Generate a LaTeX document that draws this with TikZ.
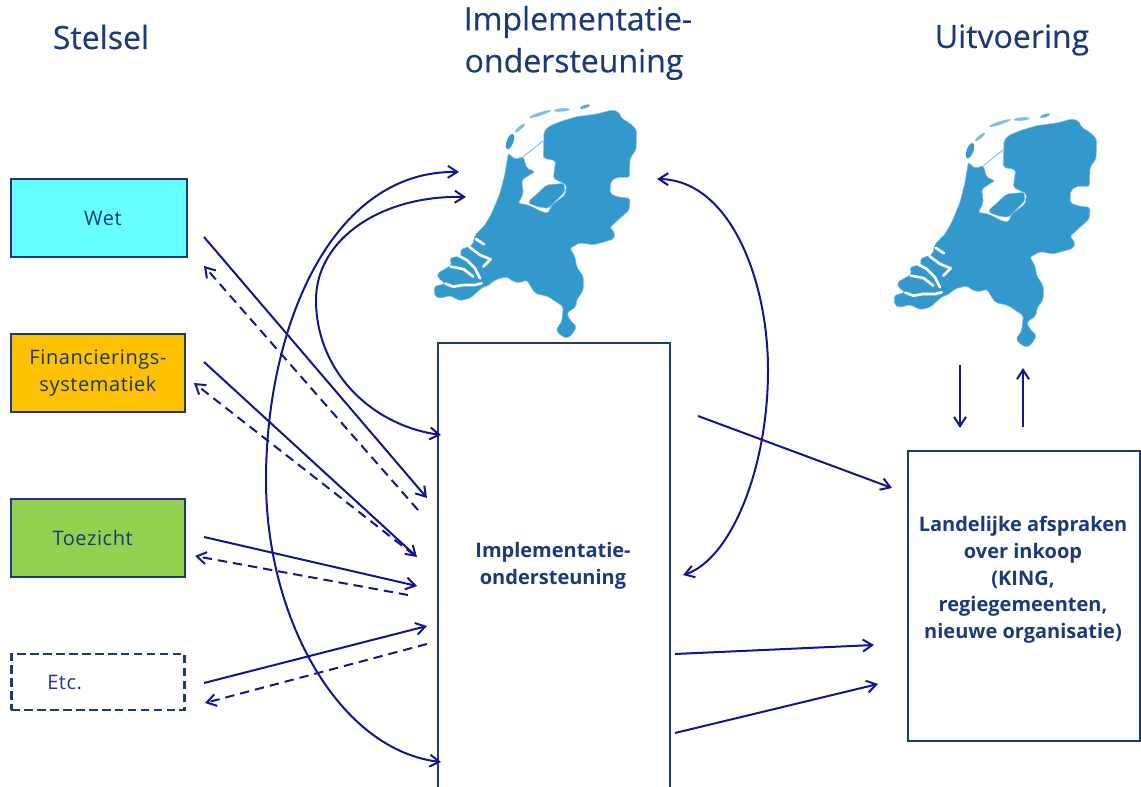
\documentclass[tikz,border=0pt]{standalone}
\usepackage{fontspec}
\setmainfont{Open Sans}
\newfontfamily\titlef[FakeBold=0.35]{Open Sans}
\newfontfamily\labelf[LetterSpace=3]{Open Sans}
\usetikzlibrary{arrows.meta}
\definecolor{navyt}{HTML}{1A3A78}
\definecolor{arrowc}{HTML}{14148C}
\definecolor{mapc}{HTML}{3399CC}
\definecolor{mapl}{HTML}{7FC0E0}
\tikzset{
  x=0.75pt,y=-0.75pt,
  px/.style={inner sep=0pt,outer sep=0pt},
  title/.style={px,text=navyt,font=\titlef\fontsize{24}{31.5}\selectfont,align=center},
  box/.style={draw=navyt,line width=1.6pt,minimum width=#1,px,text=navyt,align=center},
  boxlabel/.style={font=\labelf\fontsize{15}{20.5}\selectfont},
  boldlabel/.style={px,text=navyt,align=center,font=\fontsize{15}{20}\selectfont\bfseries},
  barb/.tip={Straight Barb[length=7pt,width=9pt,line width=1.5pt]},
  link/.style={draw=arrowc,line width=1.5pt,-barb},
  both/.style={draw=arrowc,line width=1.5pt,barb-barb},
  back/.style={link,dash pattern=on 7pt off 4.5pt},
  strip/.style={draw=white,line width=2pt,line cap=round,line join=round},
  nlmap/.pic={
    \begin{scope}[x=0.25pt,y=-0.25pt]
      \fill[mapc,draw=mapl,line width=0.4pt,rounded corners=1.5pt]
        (265,190)--(285,208)--(310,200)--(320,235)--(345,245)--(305,270)--(310,310)--(295,340)--(325,345)--(365,365)--(385,370)--(395,345)--(435,315)--(440,285)--(400,265)--(407,212)--(370,205)--(372,125)--(385,110)--(420,95)--(470,80)--(530,72)--(575,60)--(595,65)--(605,85)--(630,100)--(650,120)--(648,180)--(630,205)--(628,262)--(590,262)--(572,275)--(570,310)--(590,320)--(630,325)--(628,360)--(600,385)--(570,412)--(585,430)--(580,448)--(520,465)--(480,458)--(450,475)--(465,500)--(470,530)--(490,560)--(490,600)--(470,630)--(468,650)--(440,670)--(450,690)--(470,710)--(455,735)--(440,745)--(420,735)--(408,720)--(425,695)--(430,650)--(400,630)--(385,620)--(345,610)--(320,570)--(300,578)--(280,575)--(260,560)--(225,570)--(200,590)--(190,590)--(150,625)--(120,632)--(90,617)--(60,625)--(45,620)--(42,590)--(75,580)--(55,565)--(52,550)--(95,525)--(90,505)--(125,495)--(120,480)--(158,465)--(165,435)--(195,405)--(215,370)--(240,310)--(255,250)--cycle;
      \fill[mapc,draw=mapl,line width=0.3pt,rounded corners=1.5pt]
        (325,335)--(380,285)--(432,280)--(435,305)--(385,355)--(360,352)--(330,342)--cycle;
      \draw[mapl,line width=0.7pt] (310,200)--(370,152);
      \draw[strip] (168,447)--(192,463);
      \draw[strip] (148,471)--(180,495)--(212,508)--(190,530);
      \draw[strip] (112,495)--(140,510)--(165,535)--(180,565);
      \draw[strip] (76,581)--(100,590)--(130,585)--(165,585)--(185,580);
      \draw[strip] (92,530)--(130,537)--(160,560);
      \fill[mapc] (270,155) ellipse [x radius=10,y radius=24,rotate=-20];
      \fill[mapl] (300,114) ellipse [x radius=20,y radius=5,rotate=40];
      \fill[mapl] (360,72) ellipse [x radius=34,y radius=5,rotate=18];
      \fill[mapl] (425,60) ellipse [x radius=24,y radius=5,rotate=5];
      \fill[mapc!80!white] (495,50) ellipse [x radius=16,y radius=5,rotate=18];
    \end{scope}
  }
}
\begin{document}
\begin{tikzpicture}
\useasboundingbox (0,0) rectangle (1141,787);
\clip (0,0) rectangle (1141,787);

% maps
\pic at (420,90) {nlmap};
\pic at (880,99) {nlmap};

% titles
\node[title] (tstelsel) at (101,37) {Stelsel};
\node[title] (timpl) at (578,43) {Implementatie-\\\hspace*{-6pt}ondersteuning};
\node[title] (tuit) at (1012,40) {Uitvoering};

% boxes
\node[box=132pt,fill={rgb,255:red,102;green,255;blue,255},minimum height=58.5pt,boxlabel] (wet) at (99,218) {\hspace*{6pt}Wet};
\node[box=131pt,minimum height=58.5pt,boxlabel,fill={rgb,255:red,255;green,192;blue,0}] (fin) at (98,373) {Financierings-\\systematiek};
\node[box=131pt,fill={rgb,255:red,146;green,208;blue,80},minimum height=58.5pt,boxlabel] (toe) at (98,538) {\hspace*{-8pt}Toezicht};
\node[box=130pt,line width=1.8pt,dash pattern=on 6.5pt off 3.2pt,minimum height=42pt,boxlabel] (etc) at (98,682) {\hspace*{-50pt}Etc.};
\node[box=174pt,minimum height=355pt] (impl) at (554,580) {};
\node[boldlabel] (impltxt) at (553,566) {Implementatie-\\ondersteuning};
\node[box=174pt,minimum height=217.5pt] (land) at (1024,596) {};
\node[boldlabel] (landtxt) at (1023,580) {Landelijke afspraken\\over inkoop\\(KING,\\regiegemeenten,\\nieuwe organisatie)};

% connector ends
\coordinate (w1) at (204,237); \coordinate (w2) at (427,498);
\coordinate (w3) at (418,510); \coordinate (w4) at (204,266);
\coordinate (f1) at (204,362); \coordinate (f2) at (417,557);
\coordinate (f3) at (414,555); \coordinate (f4) at (194,383);
\coordinate (t1) at (204,537); \coordinate (t2) at (417,586);
\coordinate (t3) at (408,595); \coordinate (t4) at (195,556);
\coordinate (e1) at (204,683); \coordinate (e2) at (427,626);
\coordinate (e3) at (427,644); \coordinate (e4) at (205,703);
\coordinate (ca) at (459,172); \coordinate (cb) at (441,762);
\coordinate (da) at (466,197); \coordinate (db) at (441,435);
\coordinate (ra) at (657,179); \coordinate (rb) at (683,575);
\coordinate (o1) at (698,416); \coordinate (o2) at (892,488);
\coordinate (o3) at (675,654); \coordinate (o4) at (874,645);
\coordinate (o5) at (675,733); \coordinate (o6) at (878,684);
\coordinate (v1) at (960,365); \coordinate (v2) at (960,428);
\coordinate (v3) at (1023,427); \coordinate (v4) at (1023,368);

% straight
\draw[link] (w1) -- (w2);
\draw[back] (w3) -- (w4);
\draw[link] (f1) -- (f2);
\draw[back] (f3) -- (f4);
\draw[link] (t1) -- (t2);
\draw[back] (t3) -- (t4);
\draw[link] (e1) -- (e2);
\draw[back] (e3) -- (e4);
\draw[link] (o1) -- (o2);
\draw[link] (o3) -- (o4);
\draw[link] (o5) -- (o6);
\draw[link] (v1) -- (v2);
\draw[link] (v3) -- (v4);

% curved
\draw[both] (ca) .. controls (330,170) and (266,330) .. (266,480) .. controls (266,620) and (340,750) .. (cb);
\draw[both] (da) .. controls (380,195) and (316,240) .. (316,300) .. controls (316,370) and (370,425) .. (db);
\draw[both] (ra) .. controls (730,180) and (768,280) .. (768,370) .. controls (768,470) and (730,560) .. (rb);
\end{tikzpicture}
\end{document}
